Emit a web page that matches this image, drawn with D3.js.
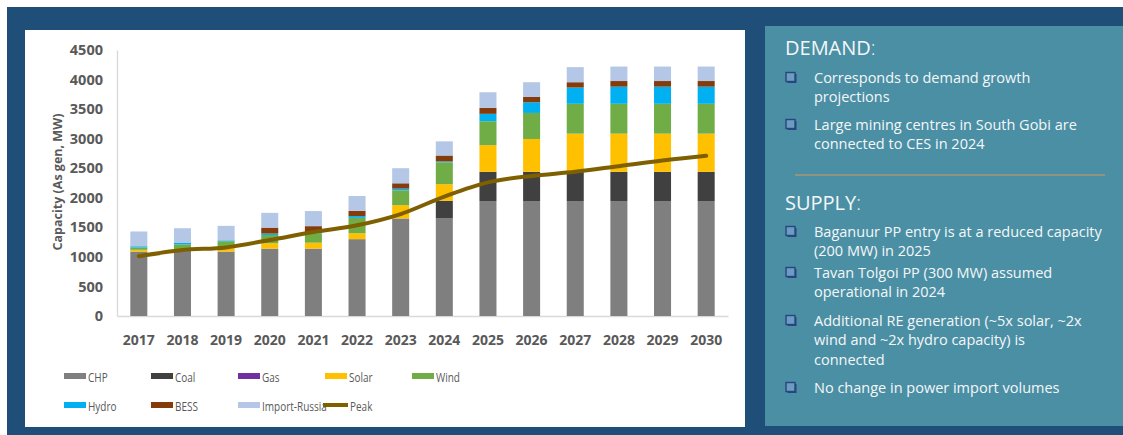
<!DOCTYPE html>
<html>
<head>
<meta charset="utf-8">
<script src="https://cdn.jsdelivr.net/npm/d3@7"></script>
<style>
  html, body { margin: 0; padding: 0; background: #ffffff; }
  svg { display: block; }
</style>
</head>
<body>
<svg id="chart" width="1123" height="435"></svg>
<script>
// Installed capacity by source (MW, as generated) and peak demand, 2017-2030
const years = [2017, 2018, 2019, 2020, 2021, 2022, 2023, 2024, 2025, 2026, 2027, 2028, 2029, 2030];
const chp    = [1090, 1100, 1090, 1140, 1140, 1300, 1650, 1650, 1945, 1945, 1945, 1945, 1945, 1945];
const coal   = [0, 0, 0, 0, 0, 0, 0, 300, 495, 495, 495, 495, 495, 495];
const gas    = [0, 0, 0, 0, 0, 0, 0, 0, 0, 0, 0, 0, 0, 0];
const solar  = [30, 15, 55, 90, 100, 100, 225, 280, 450, 555, 645, 645, 645, 645];
const wind   = [40, 95, 120, 140, 160, 260, 250, 370, 405, 440, 505, 505, 505, 505];
const hydro  = [20, 25, 15, 25, 20, 30, 30, 15, 125, 180, 275, 290, 290, 290];
const bess   = [0, 0, 0, 100, 100, 90, 90, 100, 100, 90, 90, 95, 95, 95];
const importRussia = [250, 250, 245, 250, 255, 250, 255, 240, 265, 250, 255, 245, 245, 245];
const peak   = [1010, 1115, 1160, 1285, 1420, 1535, 1725, 2020, 2260, 2370, 2440, 2535, 2630, 2710];
const yTicks = [0, 500, 1000, 1500, 2000, 2500, 3000, 3500, 4000, 4500];

const seriesNames = ["CHP", "Coal", "Gas", "Solar", "Wind", "Hydro", "BESS", "Import-Russia"];
const seriesValues = [chp, coal, gas, solar, wind, hydro, bess, importRussia];
const seriesColors = ["#7f7f7f", "#404040", "#7030a0", "#ffc000", "#70ad47", "#00b0f0", "#843c0c", "#b4c7e7"];
const peakColor = "#7f6000";

const rows = years.map((yr, i) => {
  const r = { year: yr };
  seriesNames.forEach((n, k) => { r[n] = seriesValues[k][i]; });
  return r;
});

const svg = d3.select("#chart");

// backgrounds
svg.append("rect").attr("x", 7).attr("y", 7).attr("width", 1116).attr("height", 428).attr("fill", "#1f4e79");
svg.append("rect").attr("x", 25).attr("y", 30).attr("width", 720).attr("height", 397).attr("fill", "#ffffff");
svg.append("rect").attr("x", 765).attr("y", 26).attr("width", 358).attr("height", 400).attr("fill", "#4b8fa4");

// scales
const x = d3.scaleBand().domain(years).range([117, 728]).paddingInner(0.61).paddingOuter(0.305);
const y = d3.scaleLinear().domain([0, 4500]).range([316, 50]);

const axisFont = "'Open Sans', 'Noto Sans', sans-serif";
const axisGrey = "#595959";

// axes
const yAxis = svg.append("g").attr("transform", "translate(117,0)")
  .call(d3.axisLeft(y).tickValues(yTicks).tickFormat(d3.format("d")).tickSize(0).tickPadding(14));
yAxis.select(".domain").attr("stroke", "#d9d9d9").attr("stroke-width", 1.3);
yAxis.selectAll("text").attr("font-family", axisFont).attr("font-size", 14.5)
  .attr("font-weight", 700).attr("fill", axisGrey);

const xAxis = svg.append("g").attr("transform", "translate(0,316)")
  .call(d3.axisBottom(x).tickSize(0).tickPadding(19));
xAxis.select(".domain").attr("stroke", "#d9d9d9").attr("stroke-width", 1.3);
xAxis.selectAll("text").attr("font-family", axisFont).attr("font-size", 14)
  .attr("font-weight", 700).attr("fill", axisGrey);

svg.append("text")
  .attr("transform", "translate(57,182) rotate(-90)")
  .attr("text-anchor", "middle").attr("dominant-baseline", "central")
  .attr("font-family", axisFont).attr("font-size", 12.5).attr("font-weight", 700)
  .attr("fill", axisGrey)
  .text("Capacity (As gen, MW)");

// stacked bars
const stacked = d3.stack().keys(seriesNames)(rows);
svg.append("g").selectAll("g").data(stacked).join("g")
  .attr("fill", (d, i) => seriesColors[i])
  .selectAll("rect").data(d => d).join("rect")
  .attr("x", d => x(d.data.year))
  .attr("width", x.bandwidth())
  .attr("y", d => y(d[1]))
  .attr("height", d => y(d[0]) - y(d[1]));

// peak demand line
const line = d3.line()
  .x((d, i) => x(years[i]) + x.bandwidth() / 2)
  .y(d => y(d))
  .curve(d3.curveCatmullRom.alpha(0.5));
svg.append("path").datum(peak)
  .attr("d", line).attr("fill", "none")
  .attr("stroke", peakColor).attr("stroke-width", 4).attr("stroke-linecap", "round");

// legend
const legendItems = seriesNames.map((n, i) => ({ name: n, color: seriesColors[i], type: "box" }))
  .concat([{ name: "Peak", color: peakColor, type: "line" }]);
const colX = [64, 151, 238, 325, 412];
const rowY = [376, 405];
const legend = svg.append("g");
legendItems.forEach((it, i) => {
  const cx = colX[i % 5], cy = rowY[Math.floor(i / 5)];
  const g = legend.append("g").attr("transform", `translate(${cx},${cy})`);
  if (it.type === "box") {
    g.append("rect").attr("x", 0).attr("y", -3).attr("width", 22).attr("height", 6).attr("fill", it.color);
  } else {
    g.append("line").attr("x1", -2).attr("x2", 23).attr("y1", 0).attr("y2", 0)
      .attr("stroke", it.color).attr("stroke-width", 4);
  }
  g.append("text")
    .attr("transform", `translate(${it.type === "box" ? 24 : 25},0) scale(0.74,1)`)
    .attr("dominant-baseline", "central")
    .attr("font-family", axisFont).attr("font-size", 13.5).attr("fill", axisGrey)
    .text(it.name);
});

// commentary panel
const panelFont = "'Open Sans', 'Noto Sans', sans-serif";
const panelText = "#f4f7f9";
const panel = svg.append("g");

function heading(label, yc) {
  const t = panel.append("text").attr("x", 785).attr("y", yc).attr("dominant-baseline", "central")
    .attr("font-family", panelFont).attr("font-size", 20).attr("fill", panelText);
  t.append("tspan").text(label);
  t.append("tspan").attr("font-weight", 300).text(":");
}
function bullet(yc) {
  const b = panel.append("g").attr("transform", `translate(786,${yc - 4.5})`);
  b.append("rect").attr("x", 1.5).attr("y", 1.5).attr("width", 9).attr("height", 9).attr("fill", "#27467e");
  b.append("rect").attr("x", 0).attr("y", 0).attr("width", 9).attr("height", 9)
    .attr("fill", "#6c9cc0").attr("stroke", "#27467e").attr("stroke-width", 1.4);
}
function para(lines, yc) {
  bullet(yc);
  lines.forEach((l, i) => {
    panel.append("text").attr("x", 814).attr("y", yc + i * 19.8).attr("dominant-baseline", "central")
      .attr("font-family", panelFont).attr("font-size", 14.5).attr("fill", panelText).text(l);
  });
}

heading("DEMAND", 47);
para(["Corresponds to demand growth", "projections"], 77);
para(["Large mining centres in South Gobi are", "connected to CES in 2024"], 124);
panel.append("line").attr("x1", 795).attr("x2", 1105).attr("y1", 175).attr("y2", 175)
  .attr("stroke", "#a89478").attr("stroke-width", 1.5);
heading("SUPPLY", 202);
para(["Baganuur PP entry is at a reduced capacity", "(200 MW) in 2025"], 231);
para(["Tavan Tolgoi PP (300 MW) assumed", "operational in 2024"], 272);
para(["Additional RE generation (~5x solar, ~2x", "wind and ~2x hydro capacity) is", "connected"], 320);
para(["No change in power import volumes"], 387);
</script>
</body>
</html>
